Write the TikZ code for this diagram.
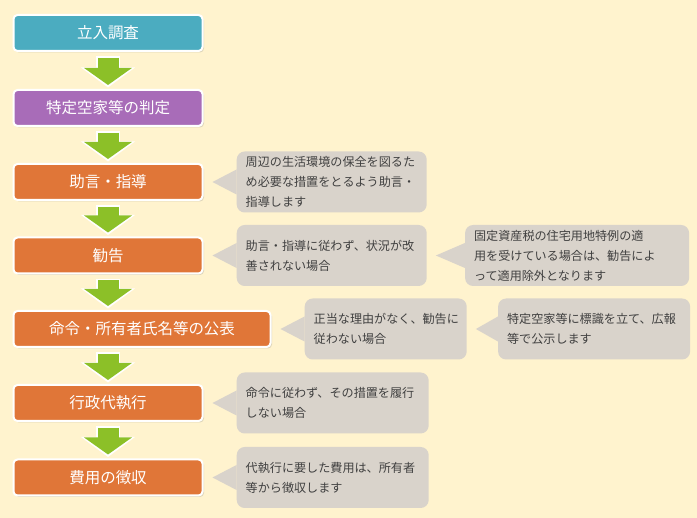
\documentclass[tikz,border=0pt]{standalone}
\usepackage{fontspec}
\setmainfont{Noto Sans CJK JP}
\usetikzlibrary{positioning,calc,arrows.meta,shadows}
\definecolor{bgcream}{RGB}{255,243,206}
\definecolor{stepteal}{RGB}{75,172,192}
\definecolor{steppurple}{RGB}{168,108,184}
\definecolor{steporange}{RGB}{224,118,56}
\definecolor{arrowgreen}{RGB}{140,192,40}
\definecolor{notegray}{RGB}{217,211,203}
\definecolor{notetext}{RGB}{64,64,64}
\tikzset{
  stepbox/.style={draw=white, line width=2pt, rounded corners=4pt,
    minimum width=189pt, minimum height=36pt, text=white,
    font=\fontsize{15.5}{18}\selectfont,
    drop shadow={opacity=0.25, shadow xshift=1.5pt, shadow yshift=-1.5pt}},
  notebox/.style={fill=notegray, rounded corners=8pt, minimum height=61pt,
    text width=#1, inner xsep=9pt, align=left, text=notetext,
    font=\fontsize{12.1}{20}\selectfont},
  downarrow/.style={draw=arrowgreen, line width=21pt, -{Triangle[width=47pt,length=17pt]},
    preaction={draw=white, line width=24pt, -{Triangle[width=53pt,length=20pt]},
      shorten <=-1.5pt, shorten >=-2.5pt}}
}
\begin{document}
\begin{tikzpicture}[x=1pt,y=-1pt]
\useasboundingbox[fill=bgcream] (0,0) rectangle (697,518);

\node[stepbox,fill=stepteal] (b1) at (108,33) {立入調査};
\node[stepbox,fill=steppurple] (b2) at (108,108) {特定空家等の判定};
\node[stepbox,fill=steporange] (b3) at (108,182) {助言・指導};
\node[stepbox,fill=steporange] (b4) at (108,255.5) {勧告};
\node[stepbox,fill=steporange,minimum width=257pt] (b5) at (142,329) {命令・所有者氏名等の公表};
\node[stepbox,fill=steporange] (b6) at (108,403) {行政代執行};
\node[stepbox,fill=steporange] (b7) at (108,477.5) {費用の徴収};

\foreach \a/\b in {b1/b2,b2/b3,b3/b4,b4/b5,b5/b6,b6/b7}
  \draw[downarrow] ($(\a.south -| b1.south)+(0,6)$) -- ($(\b.north -| b1.south)+(0,-4)$);

\node[notebox=172pt, right=33pt of b3] (c3) {周辺の生活環境の保全を図るた\\め必要な措置をとるよう助言・\\指導します};
\node[notebox=172pt, right=33pt of b4] (c4a) {助言・指導に従わず、状況が改\\善されない場合};
\node[notebox=206pt, right=38pt of c4a] (c4b) {固定資産税の住宅用地特例の適\\用を受けている場合は、勧告によ\\って適用除外となります};
\node[notebox=144pt, right=33pt of b5] (c5a) {正当な理由がなく、勧告に\\従わない場合};
\node[notebox=174pt, right=31pt of c5a] (c5b) {特定空家等に標識を立て、広報\\等で公示します};
\node[notebox=174pt, right=33pt of b6] (c6) {命令に従わず、その措置を履行\\しない場合};
\node[notebox=174pt, right=33pt of b7] (c7) {代執行に要した費用は、所有者\\等から徴収します};

\foreach \nt/\fr in {c3/b3,c4a/b4,c4b/c4a,c5a/b5,c5b/c5a,c6/b6,c7/b7}
  \fill[notegray] ($(\nt.west)+(0,-12.5)$) -- ($(\fr.east)+(9,0)$) -- ($(\nt.west)+(0,12.5)$) -- cycle;

\end{tikzpicture}
\end{document}
